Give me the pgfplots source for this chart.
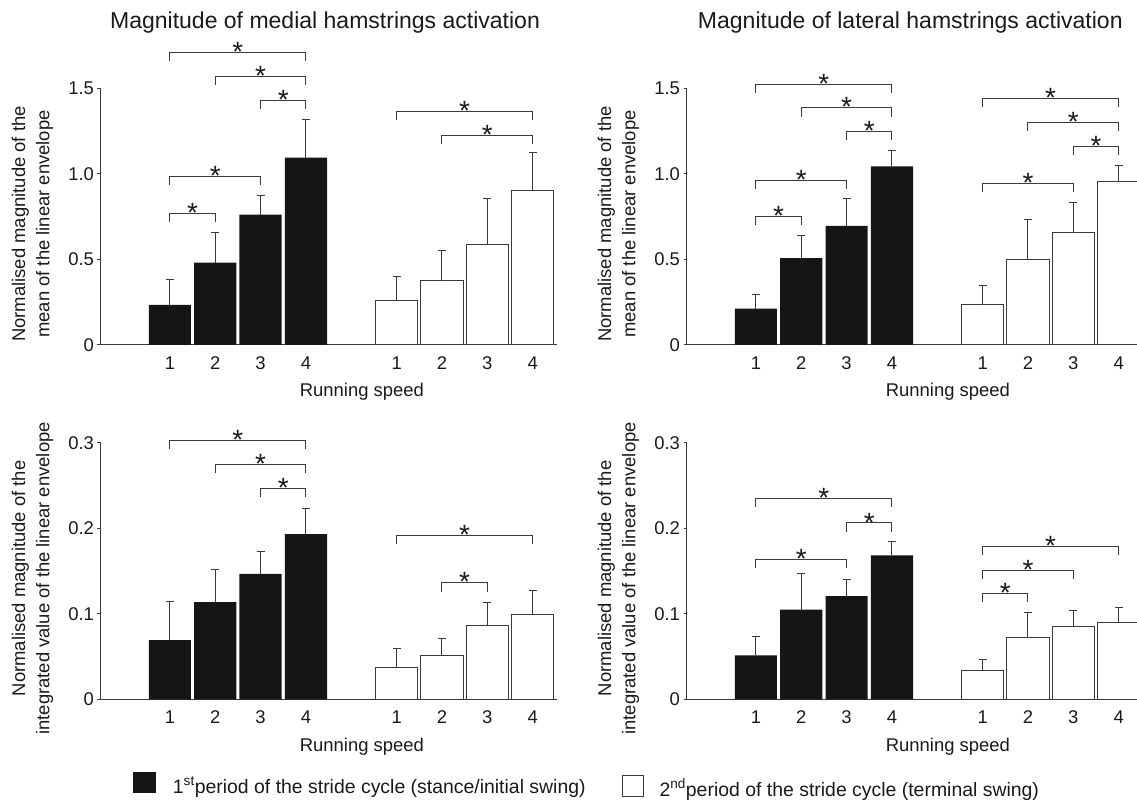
\documentclass[border=0pt]{standalone}
\usepackage{fontspec}
\setmainfont{Liberation Sans}
\usepackage{pgfplots}
\usepackage{pgfplotstable}
\pgfplotsset{compat=1.18}

\definecolor{barblack}{HTML}{151515}
\definecolor{axgray}{HTML}{3A3A3A}
\definecolor{txt}{HTML}{1A1A1A}

% panel 1: medial, mean
\pgfplotstableread[row sep=\\]{x y e\\ 1 0.234 0.150\\ 2 0.481 0.178\\ 3 0.762 0.115\\ 4 1.095 0.225\\}\PaB
\pgfplotstableread[row sep=\\]{x y e\\ 6 0.261 0.139\\ 7 0.378 0.173\\ 8 0.589 0.269\\ 9 0.905 0.218\\}\PaW
% panel 2: lateral, mean
\pgfplotstableread[row sep=\\]{x y e\\ 1 0.212 0.084\\ 2 0.508 0.131\\ 3 0.697 0.160\\ 4 1.044 0.094\\}\PbB
\pgfplotstableread[row sep=\\]{x y e\\ 6 0.238 0.109\\ 7 0.499 0.232\\ 8 0.658 0.174\\ 9 0.955 0.095\\}\PbW
% panel 3: medial, integrated
\pgfplotstableread[row sep=\\]{x y e\\ 1 0.0692 0.0456\\ 2 0.1136 0.0386\\ 3 0.1468 0.0257\\ 4 0.1932 0.0300\\}\PcB
\pgfplotstableread[row sep=\\]{x y e\\ 6 0.0368 0.0230\\ 7 0.0509 0.0203\\ 8 0.0860 0.0273\\ 9 0.0988 0.0289\\}\PcW
% panel 4: lateral, integrated
\pgfplotstableread[row sep=\\]{x y e\\ 1 0.0513 0.0226\\ 2 0.1051 0.0417\\ 3 0.1207 0.0198\\ 4 0.1686 0.0156\\}\PdB
\pgfplotstableread[row sep=\\]{x y e\\ 6 0.0333 0.0137\\ 7 0.0727 0.0293\\ 8 0.0856 0.0187\\ 9 0.0903 0.0171\\}\PdW

\newcommand{\brk}[4]{%
  \draw[axgray, line width=1bp] ([yshift=-8.7bp]axis cs:#1,#4) -- (axis cs:#1,#4) -- (axis cs:#2,#4) -- ([yshift=-8.7bp]axis cs:#2,#4);
  \node[anchor=base, inner sep=0pt, text=txt, font=\fontsize{28}{28}\selectfont, yshift=-9.1bp] at (axis cs:#3,#4) {*};
}

\pgfplotsset{
  panel/.style={
    scale only axis, width=456.2bp,
    anchor=south west,
    xmin=-0.53, xmax=9.53, ymin=0,
    axis lines*=left,
    axis line style={axgray, line width=1bp},
    xtick={1,2,3,4,6,7,8,9}, xticklabels={1,2,3,4,1,2,3,4},
    xtick style={draw=none},
    ytick style={axgray, line width=1bp},
    tick align=outside, major tick length=3bp,
    tick label style={font=\fontsize{18.5}{20}\selectfont, text=txt},
    xticklabel style={yshift=-5bp},
    label style={font=\fontsize{18.5}{24.3}\selectfont, text=txt},
    xlabel style={at={(axis description cs:0.573,0)}, anchor=base, yshift=-51.7bp},
    ylabel style={at={(axis description cs:-0.1493,0.4717)}, anchor=center, align=center},
    xlabel={Running speed},
    clip=false,
    ybar, bar width=0.93, bar shift=0pt,
  },
  errstyle/.style={error bars/.cd, y dir=plus, y explicit,
    error bar style={draw=axgray, line width=1bp},
    error mark options={rotate=90, draw=axgray, line width=1bp, mark size=4bp}},
  blackbar/.style={fill=barblack, draw=none, errstyle},
  whitebar/.style={fill=white, draw=axgray, line width=1bp, errstyle},
}

\begin{document}
\begin{tikzpicture}
\useasboundingbox (0,0) rectangle (1137bp,801bp);
\clip (0,0) rectangle (1137bp,801bp);
\fill[white] (0,0) rectangle (1137bp,801bp);

\node[anchor=base, text=txt, font=\fontsize{23.1}{27}\selectfont] at (325bp,772.7bp) {Magnitude of medial hamstrings activation};
\node[anchor=base, text=txt, font=\fontsize{23.1}{27}\selectfont] at (910.3bp,772.7bp) {Magnitude of lateral hamstrings activation};

% Panel 1
\begin{axis}[panel, at={(100.5bp,456bp)}, height=256.5bp, ymax=1.5,
  ytick={0,0.5,1,1.5}, yticklabels={0,0.5,1.0,1.5},
  ylabel={Normalised magnitude of the\\mean of the linear envelope}]
\addplot[blackbar] table[x=x,y=y,y error=e]{\PaB};
\addplot[whitebar] table[x=x,y=y,y error=e]{\PaW};
\brk{1}{2}{1.5}{0.770}
\brk{1}{3}{2}{0.986}
\brk{3}{4}{3.5}{1.430}
\brk{2}{4}{3}{1.570}
\brk{1}{4}{2.5}{1.709}
\brk{6}{9}{7.5}{1.368}
\brk{7}{9}{8}{1.227}
\end{axis}

% Panel 2
\begin{axis}[panel, at={(686.5bp,456bp)}, height=256.5bp, ymax=1.5,
  ytick={0,0.5,1,1.5}, yticklabels={0,0.5,1.0,1.5},
  ylabel={Normalised magnitude of the\\mean of the linear envelope}]
\addplot[blackbar] table[x=x,y=y,y error=e]{\PbB};
\addplot[whitebar] table[x=x,y=y,y error=e]{\PbW};
\brk{1}{2}{1.5}{0.750}
\brk{1}{3}{2}{0.962}
\brk{3}{4}{3.5}{1.247}
\brk{2}{4}{3}{1.387}
\brk{1}{4}{2.5}{1.525}
\brk{6}{8}{7}{0.943}
\brk{8}{9}{8.5}{1.163}
\brk{7}{9}{8}{1.301}
\brk{6}{9}{7.5}{1.440}
\end{axis}

% Panel 3
\begin{axis}[panel, at={(100.5bp,101.7bp)}, height=256.3bp, ymax=0.3,
  ytick={0,0.1,0.2,0.3}, yticklabels={0,0.1,0.2,0.3},
  ylabel={Normalised magnitude of the\\integrated value of the linear envelope}]
\addplot[blackbar] table[x=x,y=y,y error=e]{\PcB};
\addplot[whitebar] table[x=x,y=y,y error=e]{\PcW};
\brk{3}{4}{3.5}{0.2466}
\brk{2}{4}{3}{0.2747}
\brk{1}{4}{2.5}{0.3027}
\brk{7}{8}{7.5}{0.1363}
\brk{6}{9}{7.5}{0.1916}
\end{axis}

% Panel 4
\begin{axis}[panel, at={(686.5bp,101.7bp)}, height=256.3bp, ymax=0.3,
  ytick={0,0.1,0.2,0.3}, yticklabels={0,0.1,0.2,0.3},
  ylabel={Normalised magnitude of the\\integrated value of the linear envelope}]
\addplot[blackbar] table[x=x,y=y,y error=e]{\PdB};
\addplot[whitebar] table[x=x,y=y,y error=e]{\PdW};
\brk{1}{3}{2}{0.1635}
\brk{3}{4}{3.5}{0.2064}
\brk{1}{4}{2.5}{0.2353}
\brk{6}{7}{6.5}{0.1238}
\brk{6}{8}{7}{0.1507}
\brk{6}{9}{7.5}{0.1788}
\end{axis}

% Legend
\fill[barblack] (133.3bp,7.7bp) rectangle (156bp,29.3bp);
\node[anchor=base west, inner sep=0pt, text=txt, font=\fontsize{19.5}{22}\selectfont] at (172.7bp,8bp) {1\textsuperscript{st}period of the stride cycle (stance/initial swing)};
\draw[axgray, line width=1bp] (622.8bp,4.8bp) rectangle (643.5bp,25.5bp);
\node[anchor=base west, inner sep=0pt, text=txt, font=\fontsize{19.5}{22}\selectfont] at (659.3bp,5bp) {2\textsuperscript{nd}period of the stride cycle (terminal swing)};
\end{tikzpicture}
\end{document}
